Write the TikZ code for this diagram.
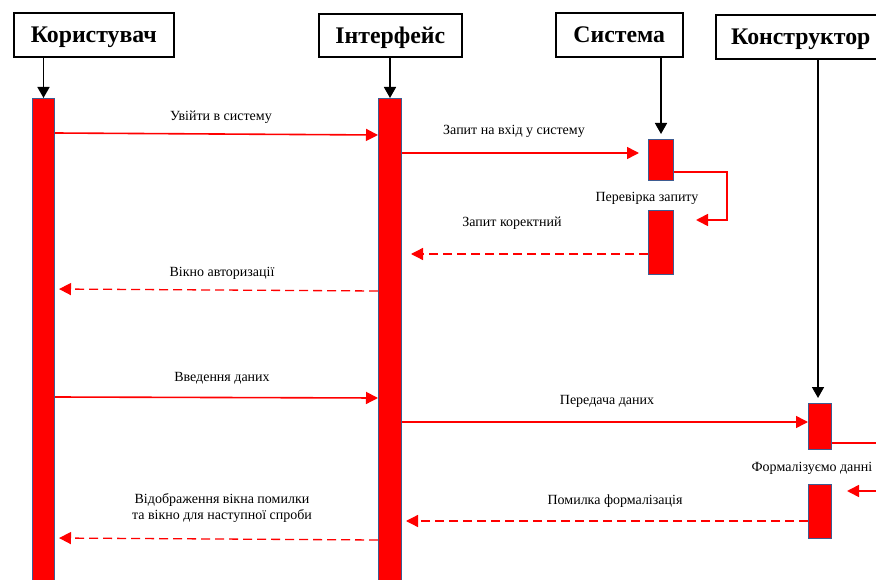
\documentclass[tikz,border=0pt]{standalone}
\usepackage{fontspec}
\setmainfont{Liberation Serif}
\usetikzlibrary{arrows.meta}

\definecolor{barfill}{RGB}{255,0,0}
\definecolor{barline}{RGB}{62,92,145}
\definecolor{msg}{RGB}{255,0,0}

\begin{document}
\begin{tikzpicture}[x=1pt,y=-1pt,
  actor/.style={draw=black,line width=1.6pt,fill=white,inner sep=0pt,text depth=0pt,
    font=\bfseries\fontsize{23.8}{27}\selectfont,anchor=north west},
  actbar/.style={draw=barline,line width=1pt,fill=barfill,inner sep=0pt,
    minimum width=23,anchor=north west},
  lifeline/.style={draw=black,line width=1.6pt,-{Triangle[length=11pt,width=12pt]}},
  call/.style={draw=msg,line width=1.6pt,-{Triangle[length=12pt,width=12pt]}},
  reply/.style={draw=msg,line width=1.3pt,dash pattern=on 9pt off 5pt,
    -{Triangle[length=12pt,width=12pt,fill=msg]}},
  lbl/.style={inner sep=0pt,font=\fontsize{14}{16}\selectfont,align=center,yshift=-1.5pt}
]
\useasboundingbox (0,0) rectangle (876,580);
\clip (0,0) rectangle (876,580);

% participants
\node[actor,minimum width=160,minimum height=44] (user) at (13,12) {Користувач};
\node[actor,minimum width=143,minimum height=43] (ui) at (318,13) {Інтерфейс};
\node[actor,minimum width=127,minimum height=44] (sys) at (555,12) {Система};
\node[actor,minimum width=170,minimum height=44] (con) at (715,14) {Конструктор};

% activation bars
\node[actbar,minimum width=22,minimum height=490] (uBar) at (32,98) {};
\node[actbar,minimum width=23,minimum height=490] (iBar) at (378,98) {};
\node[actbar,minimum width=25,minimum height=41] (sBar1) at (648,139) {};
\node[actbar,minimum width=25,minimum height=64] (sBar2) at (648,210) {};
\node[actbar,minimum width=23,minimum height=46] (kBar1) at (808,403) {};
\node[actbar,minimum width=23,minimum height=54] (kBar2) at (808,484) {};

% lifelines down to the first activation
\draw[lifeline] (uBar.north |- user.south) -- (uBar.north);
\draw[lifeline] (iBar.north |- ui.south) -- (iBar.north);
\draw[lifeline] (sBar1.north |- sys.south) -- ([yshift=5pt]sBar1.north);
\draw[lifeline] ([xshift=-2pt]kBar1.north |- con.south) -- ([xshift=-2pt,yshift=5pt]kBar1.north);

% messages
\draw[call] (uBar.east |- 0,133) -- (iBar.west |- 0,135);
\node[lbl] (m1) at (221,116) {Увійти в систему};

\draw[call,shorten >=9pt] (iBar.east |- 0,153) -- (sBar1.west |- 0,153);
\node[lbl] (m2) at (514,130) {Запит на вхід у систему};

\draw[call] (sBar1.east |- 0,172) -- (727,172) -- (727,220)
  -- ([xshift=22pt]sBar2.east |- 0,220);
\node[lbl] (m3) at (647,197) {Перевірка запиту};

\draw[reply,shorten >=9pt] (sBar2.west |- 0,254) -- (iBar.east |- 0,254);
\node[lbl] (m4) at (512,222) {Запит коректний};

\draw[reply,shorten >=4pt] (iBar.west |- 0,291) -- (uBar.east |- 0,289);
\node[lbl] (m5) at (222,272) {Вікно авторизації};

\draw[call] (uBar.east |- 0,397) -- (iBar.west |- 0,398);
\node[lbl] (m6) at (222,377) {Введення даних};

\draw[call] (iBar.east |- 0,422) -- (kBar1.west |- 0,422);
\node[lbl] (m7) at (607,400) {Передача даних};

\draw[call] (kBar1.east |- 0,443) -- (890,443) -- (890,491)
  -- ([xshift=15pt]kBar2.east |- 0,491);
\node[lbl] (m8) at (812,467) {Формалізуємо данні};

\draw[reply,shorten >=4pt] (kBar2.west |- 0,521) -- (iBar.east |- 0,521);
\node[lbl] (m9) at (615,500) {Помилка формалізація};

\draw[reply,shorten >=4pt] (iBar.west |- 0,540) -- (uBar.east |- 0,538);
\node[lbl] (m10) at (222,506) {Відображення вікна помилки\\та вікно для наступної спроби};
\end{tikzpicture}
\end{document}
